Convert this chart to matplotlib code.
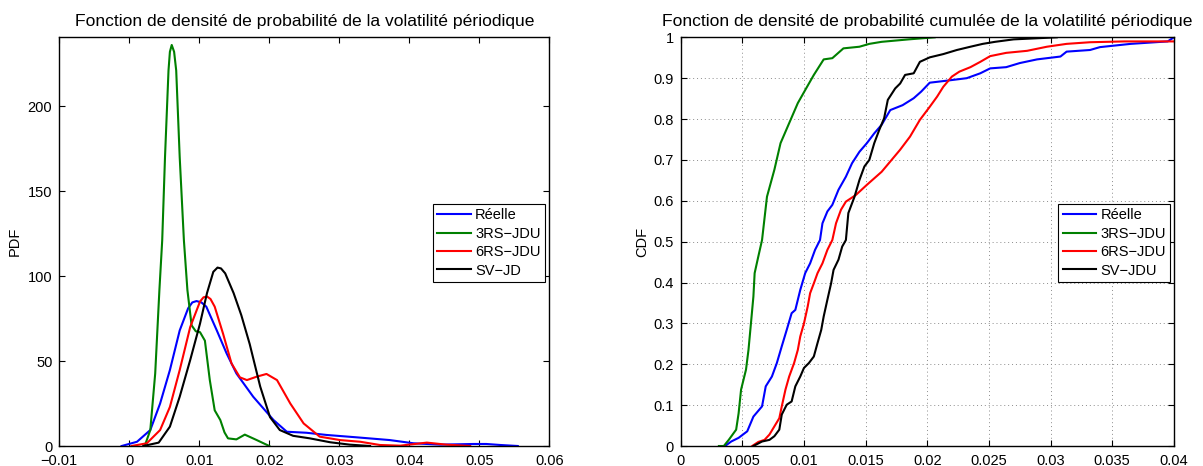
import numpy as np
import matplotlib.pyplot as plt

plt.rcParams['font.family'] = ['Liberation Sans', 'DejaVu Sans']
plt.rcParams['font.size'] = 10.5
plt.rcParams['axes.linewidth'] = 1.0

# ---- PDF (left) : kernel density estimates ----
pdf_reelle_x = [-0.0011, 0.0011, 0.0030, 0.0044, 0.0058, 0.0072, 0.0084, 0.0090, 0.0096, 0.0103,
                0.0110, 0.0125, 0.0139, 0.0153, 0.0177, 0.0206, 0.0225, 0.0253, 0.0282, 0.0325,
                0.0372, 0.0406, 0.0444, 0.0492, 0.0510, 0.0530, 0.0555]
pdf_reelle_y = [0, 2.5, 9.4, 25, 44.7, 68, 81, 84.5, 85.3, 84.5,
                82, 68, 54.5, 42.7, 29, 15.3, 8.4, 7.8, 6.5, 5.1,
                3.5, 1.6, 0.8, 1.2, 1.2, 0.6, 0]

pdf_3rs_x = [0.0022, 0.0030, 0.0037, 0.0043, 0.0047, 0.0051, 0.0056, 0.0058, 0.00606, 0.0064,
             0.0067, 0.0072, 0.0078, 0.0083, 0.0089, 0.0095, 0.0101, 0.0108, 0.0115, 0.0122,
             0.0130, 0.0136, 0.0141, 0.0153, 0.0165, 0.0182, 0.0200]
pdf_3rs_y = [0, 9.4, 42.7, 91.8, 121, 170, 221, 232, 236, 232,
             221, 170, 121, 91.8, 71, 67.5, 67, 62, 38.8, 21,
             15.3, 8, 4.5, 3.9, 6.7, 3.5, 0]

pdf_6rs_x = [0.0003, 0.0025, 0.0044, 0.0058, 0.0072, 0.0087, 0.0101, 0.0106, 0.0111, 0.0116,
             0.0122, 0.0134, 0.0146, 0.0158, 0.0168, 0.0182, 0.0196, 0.0211, 0.0230, 0.0249,
             0.0272, 0.0301, 0.0330, 0.0358, 0.0387, 0.0425, 0.0453, 0.0487]
pdf_6rs_y = [0, 1.6, 9.4, 23, 44.7, 70, 85, 87.5, 88, 86.5,
             82, 66, 48.6, 40.4, 38.8, 40.8, 42.4, 38.8, 25, 13.3,
             5.5, 3.5, 2.5, 0.6, 0.2, 2, 0.8, 0]

pdf_sv_x = [0.0020, 0.0042, 0.0058, 0.0072, 0.0087, 0.0101, 0.0111, 0.0120, 0.0126, 0.0131,
            0.0137, 0.0149, 0.0160, 0.0172, 0.0187, 0.0201, 0.0215, 0.0234, 0.0258, 0.0287,
            0.0315, 0.0344]
pdf_sv_y = [0, 2, 11.4, 29, 50.6, 72, 90, 102.5, 105, 104.5,
            101.6, 90, 77, 60, 35, 17, 9.4, 6, 4.5, 2.2,
            0.8, 0]

cdf_reelle_x = [0.0036, 0.0041, 0.0047, 0.0054, 0.0059, 0.0066, 0.0069, 0.0074, 0.0078, 0.0082,
                0.0086, 0.0090, 0.0093, 0.0097, 0.0101, 0.0105, 0.0109, 0.0113, 0.0115, 0.0119,
                0.0123, 0.0128, 0.0134, 0.0139, 0.0145, 0.0151, 0.0157, 0.0163, 0.0170, 0.0180,
                0.0189, 0.0195, 0.0202, 0.0216, 0.0232, 0.0243, 0.0251, 0.0264, 0.0275, 0.0289,
                0.0308, 0.0313, 0.0332, 0.0340, 0.0365, 0.0395, 0.0400]
cdf_reelle_y = [0, 0.011, 0.02, 0.036, 0.072, 0.097, 0.146, 0.17, 0.203, 0.244,
                0.284, 0.325, 0.333, 0.382, 0.423, 0.447, 0.48, 0.504, 0.545, 0.574,
                0.59, 0.627, 0.659, 0.692, 0.72, 0.741, 0.765, 0.786, 0.822, 0.834,
                0.851, 0.867, 0.889, 0.894, 0.9, 0.912, 0.924, 0.927, 0.937, 0.946,
                0.953, 0.965, 0.969, 0.976, 0.984, 0.99, 1.0]

cdf_3rs_x = [0.0031, 0.0035, 0.0039, 0.0045, 0.0047, 0.0049, 0.0053, 0.0055, 0.0057, 0.0059,
             0.0060, 0.0063, 0.0066, 0.0070, 0.0076, 0.0081, 0.0088, 0.0095, 0.0101, 0.0108,
             0.0116, 0.0123, 0.0132, 0.0145, 0.0153, 0.0163, 0.0185, 0.0206]
cdf_3rs_y = [0, 0, 0.015, 0.04, 0.08, 0.138, 0.187, 0.235, 0.3, 0.366,
             0.423, 0.464, 0.504, 0.61, 0.676, 0.741, 0.79, 0.839, 0.871, 0.908,
             0.946, 0.949, 0.973, 0.977, 0.984, 0.989, 0.995, 1.0]

cdf_6rs_x = [0.0058, 0.0063, 0.0068, 0.0072, 0.0076, 0.0080, 0.0082, 0.0085, 0.0088, 0.0092,
             0.0095, 0.0097, 0.0100, 0.0103, 0.0105, 0.0108, 0.0111, 0.0115, 0.0119, 0.0123,
             0.0126, 0.0130, 0.0134, 0.0142, 0.0151, 0.0163, 0.0178, 0.0186, 0.0194, 0.0202,
             0.0208, 0.0213, 0.0220, 0.0226, 0.0235, 0.0243, 0.0251, 0.0264, 0.0281, 0.0297,
             0.0313, 0.0332, 0.0360, 0.0420]
cdf_6rs_y = [0, 0.01, 0.015, 0.028, 0.048, 0.068, 0.097, 0.138, 0.17, 0.203,
             0.235, 0.268, 0.3, 0.341, 0.374, 0.398, 0.423, 0.447, 0.48, 0.504,
             0.545, 0.578, 0.598, 0.614, 0.639, 0.671, 0.725, 0.757, 0.798, 0.83,
             0.855, 0.879, 0.904, 0.916, 0.927, 0.94, 0.954, 0.962, 0.967, 0.977,
             0.984, 0.988, 0.99, 0.99]

cdf_sv_x = [0.0059, 0.0066, 0.0072, 0.0076, 0.0080, 0.0082, 0.0086, 0.0090, 0.0093, 0.0097,
            0.0100, 0.0104, 0.0108, 0.0111, 0.0114, 0.0116, 0.0119, 0.0122, 0.0124, 0.0128,
            0.0131, 0.0134, 0.0136, 0.0141, 0.0145, 0.0149, 0.0153, 0.0157, 0.0161, 0.0165,
            0.0168, 0.0174, 0.0178, 0.0182, 0.0189, 0.0194, 0.0202, 0.0213, 0.0224, 0.0235,
            0.0245, 0.0255, 0.0270, 0.0305]
cdf_sv_y = [0, 0.011, 0.015, 0.024, 0.04, 0.077, 0.101, 0.109, 0.146, 0.17,
            0.191, 0.203, 0.219, 0.252, 0.284, 0.317, 0.358, 0.398, 0.431, 0.456,
            0.488, 0.504, 0.57, 0.61, 0.651, 0.684, 0.7, 0.741, 0.773, 0.802,
            0.847, 0.875, 0.887, 0.908, 0.912, 0.94, 0.951, 0.959, 0.969, 0.977,
            0.984, 0.989, 0.995, 1.0]

pdf_xticks = [-0.01, 0, 0.01, 0.02, 0.03, 0.04, 0.05, 0.06]
pdf_xlabels = ['\u22120.01', '0', '0.01', '0.02', '0.03', '0.04', '0.05', '0.06']
pdf_yticks = [0, 50, 100, 150, 200]
cdf_xticks = [0, 0.005, 0.01, 0.015, 0.02, 0.025, 0.03, 0.035, 0.04]
cdf_xlabels = ['0', '0.005', '0.01', '0.015', '0.02', '0.025', '0.03', '0.035', '0.04']
cdf_yticks = [0, 0.1, 0.2, 0.3, 0.4, 0.5, 0.6, 0.7, 0.8, 0.9, 1]
cdf_ylabels = ['0', '0.1', '0.2', '0.3', '0.4', '0.5', '0.6', '0.7', '0.8', '0.9', '1']

blue = '#0000ff'
green = '#008000'
red = '#ff0000'
black = '#000000'
lw = 1.5

fig = plt.figure(figsize=(12.03, 4.66), dpi=100)
ax1 = fig.add_axes([0.0493, 0.0429, 0.4073, 0.877])
ax2 = fig.add_axes([0.5658, 0.0429, 0.4100, 0.877])

ax1.plot(pdf_reelle_x, pdf_reelle_y, color=blue, lw=lw, label='Réelle')
ax1.plot(pdf_3rs_x, pdf_3rs_y, color=green, lw=lw, label='3RS\u2212JDU')
ax1.plot(pdf_6rs_x, pdf_6rs_y, color=red, lw=lw, label='6RS\u2212JDU')
ax1.plot(pdf_sv_x, pdf_sv_y, color=black, lw=lw, label='SV\u2212JD')
ax1.set_xlim(-0.01, 0.06)
ax1.set_ylim(0, 240.5)
ax1.set_xticks(pdf_xticks)
ax1.set_xticklabels(pdf_xlabels)
ax1.set_yticks(pdf_yticks)
ax1.set_ylabel('PDF')
ax1.yaxis.set_label_coords(-0.076, 0.5)
ax1.set_title('Fonction de densité de probabilité de la volatilité périodique', pad=8)

ax2.plot(cdf_reelle_x, cdf_reelle_y, color=blue, lw=lw, label='Réelle')
ax2.plot(cdf_3rs_x, cdf_3rs_y, color=green, lw=lw, label='3RS\u2212JDU')
ax2.plot(cdf_6rs_x, cdf_6rs_y, color=red, lw=lw, label='6RS\u2212JDU')
ax2.plot(cdf_sv_x, cdf_sv_y, color=black, lw=lw, label='SV\u2212JDU')
ax2.set_xlim(0, 0.04)
ax2.set_ylim(0, 1)
ax2.set_xticks(cdf_xticks)
ax2.set_xticklabels(cdf_xlabels)
ax2.set_yticks(cdf_yticks)
ax2.set_yticklabels(cdf_ylabels)
ax2.grid(True, linestyle=(0, (1, 3)), color='0.55', lw=0.7)
ax2.set_ylabel('CDF')
ax2.yaxis.set_label_coords(-0.064, 0.5)
ax2.set_title('Fonction de densité de probabilité cumulée de la volatilité périodique', pad=8)

for ax, anchor in [(ax1, (0.991, 0.592)), (ax2, (0.993, 0.592))]:
    ax.tick_params(direction='in', top=True, right=True, length=4, width=0.8)
    ax.tick_params(axis='x', pad=6)
    ax.tick_params(axis='y', pad=5)
    leg = ax.legend(loc='upper right', bbox_to_anchor=anchor, borderaxespad=0,
                    fancybox=False, framealpha=1, edgecolor='black',
                    handlelength=2.3, handletextpad=0.3, labelspacing=0.3,
                    borderpad=0.3)
    leg.get_frame().set_linewidth(0.8)

plt.savefig('out.png', dpi=100)
